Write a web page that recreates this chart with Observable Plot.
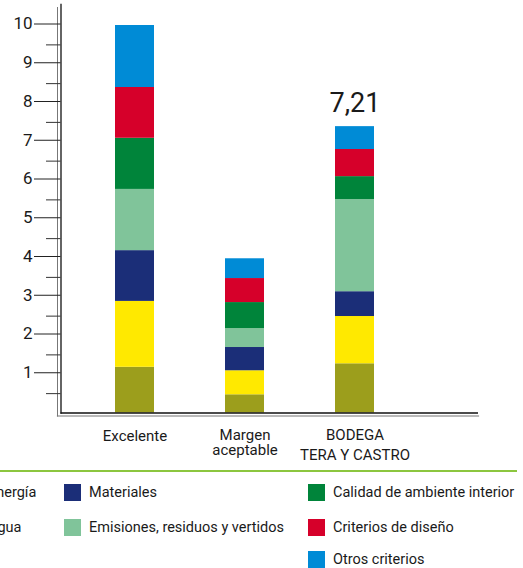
<!DOCTYPE html>
<html>
<head>
<meta charset="utf-8">
<script src="https://cdn.jsdelivr.net/npm/d3@7"></script>
<script src="https://cdn.jsdelivr.net/npm/@observablehq/plot@0.6"></script>
<style>
  html, body { margin: 0; padding: 0; background: #fff; }
  body { width: 523px; height: 568px; position: relative; overflow: hidden;
         font-family: Roboto, "Liberation Sans", sans-serif; color: #1a1a1a; }
  #chart { position: absolute; left: 0; top: 0; }
  #rule { position: absolute; left: 0; top: 470px; width: 517px; height: 1.5px; background: #8cc63f; }
  .item { position: absolute; display: flex; align-items: center; height: 17px; font-size: 14.5px; white-space: nowrap; }
  .sw { width: 17px; height: 17px; margin-right: 8px; flex: none; }
</style>
</head>
<body>
<div id="chart"></div>
<div id="rule"></div>
<div id="legend"></div>
<script>
const categories = ["Excelente", "Margen aceptable", "BODEGA TERA Y CASTRO"];
const xLabelLines = ["Excelente", "Margen\naceptable", "BODEGA\nTERA Y CASTRO"];
const series = ["Energía", "Agua", "Materiales", "Emisiones, residuos y vertidos",
                "Calidad de ambiente interior", "Criterios de diseño", "Otros criterios"];
const colors = ["#9c9e1c", "#ffe900", "#1b2e78", "#80c49a", "#00843a", "#d6002a", "#008bd6"];
const excelente = [1.18, 1.70, 1.31, 1.58, 1.32, 1.31, 1.60];
const margen    = [0.47, 0.62, 0.60, 0.49, 0.67, 0.62, 0.51];
const bodega    = [1.27, 1.22, 0.64, 2.38, 0.59, 0.70, 0.59];
const scoreLabels = ["", "", "7,21"];
const yTicks = [1, 2, 3, 4, 5, 6, 7, 8, 9, 10];
const yMinorTicks = [0.5, 1.5, 2.5, 3.5, 4.5, 5.5, 6.5, 7.5, 8.5, 9.5];

const valuesByCategory = [excelente, margen, bodega];
const data = [];
categories.forEach((c, i) => series.forEach((s, j) => data.push({category: c, series: s, value: valuesByCategory[i][j]})));
const totals = categories.map((c, i) => ({category: c, total: d3.sum(valuesByCategory[i]), label: scoreLabels[i]}));
const labelOf = Object.fromEntries(categories.map((c, i) => [c, xLabelLines[i]]));

const font = 'Roboto, "Liberation Sans", sans-serif';

const chart = Plot.plot({
  width: 523,
  height: 470,
  marginLeft: 57,
  marginRight: 45,
  marginTop: 7,
  marginBottom: 54.5,
  style: {fontFamily: font, color: "#1a1a1a", background: "transparent"},
  x: {domain: categories, range: [79.5, 409.5], paddingInner: 0.648, paddingOuter: 0.324, axis: null},
  y: {domain: [0, 10], range: [412.5, 25], axis: null},
  color: {domain: series, range: colors},
  marks: [
    Plot.barY(data, {x: "category", y: "value", fill: "series", order: null}),
    Plot.frame({anchor: "left", stroke: "#777", strokeWidth: 1}),
    Plot.frame({anchor: "bottom", stroke: "#777", strokeWidth: 1.2}),
    Plot.frame({anchor: "left", stroke: "#111", strokeWidth: 1.3, dx: 3.5, dy: -3}),
    Plot.ruleY([0], {stroke: "#111", strokeWidth: 1.6, insetLeft: 3.5}),
    Plot.axisY({ticks: yMinorTicks, tickSize: 14.5, dx: 3.5, text: null, label: null, stroke: "#333"}),
    Plot.axisY({ticks: yTicks, tickSize: 26.5, dx: 3.5, dy: -1.5, tickPadding: 2, fontSize: 17, label: null, stroke: "#222", fill: "#1a1a1a", tickFormat: d => d}),
    Plot.axisX({ticks: categories.slice(0, 1), tickSize: 0, tickPadding: 14, fontSize: 15, label: null, fill: "#1a1a1a", tickFormat: d => labelOf[d]}),
    Plot.axisX({ticks: categories.slice(1, 2), tickSize: 0, tickPadding: 13, fontSize: 15, lineHeight: 1.0, label: null, fill: "#1a1a1a", tickFormat: d => labelOf[d]}),
    Plot.axisX({ticks: categories.slice(2), tickSize: 0, tickPadding: 12.5, dy: -3, fontSize: 15, lineHeight: 1.35, label: null, fill: "#1a1a1a", tickFormat: d => labelOf[d]}),
    Plot.text(totals, {x: "category", y: "total", text: "label", fontSize: 27, lineAnchor: "bottom", dy: -14.5, fill: "#1a1a1a"})
  ]
});
document.getElementById("chart").appendChild(chart);

// Legend
const legendLayout = [
  {left: -37, top: 484}, {left: -37, top: 519},
  {left: 64, top: 484}, {left: 64, top: 519},
  {left: 308, top: 484}, {left: 308, top: 519}, {left: 308, top: 551}
];
const legend = document.getElementById("legend");
series.forEach((s, i) => {
  const div = document.createElement("div");
  div.className = "item";
  div.style.left = legendLayout[i].left + "px";
  div.style.top = legendLayout[i].top + "px";
  const sw = document.createElement("span");
  sw.className = "sw";
  sw.style.background = colors[i];
  const t = document.createElement("span");
  t.textContent = s;
  div.appendChild(sw);
  div.appendChild(t);
  legend.appendChild(div);
});
</script>
</body>
</html>
